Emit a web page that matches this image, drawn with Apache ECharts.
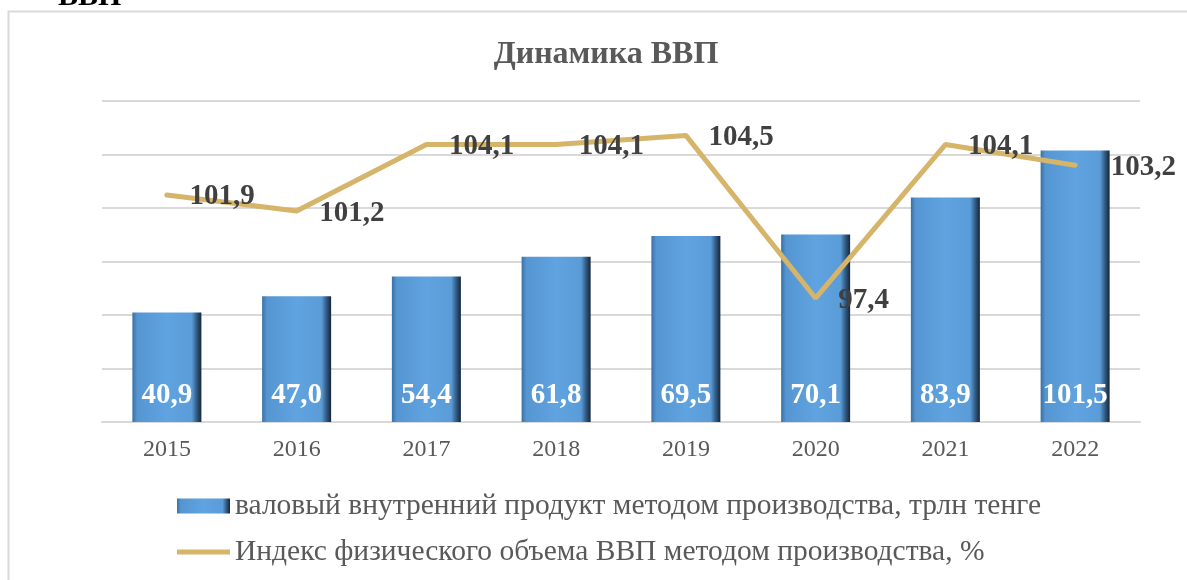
<!DOCTYPE html>
<html>
<head>
<meta charset="utf-8">
<script src="https://cdn.jsdelivr.net/npm/echarts@6/dist/echarts.min.js"></script>
<style>
  html, body { margin: 0; padding: 0; background: #fff; }
  #chart { width: 1187px; height: 580px; }
</style>
</head>
<body>
<div id="chart"></div>
<script>
// data
const years = ['2015', '2016', '2017', '2018', '2019', '2020', '2021', '2022']
const gdpValues = [40.9, 47.0, 54.4, 61.8, 69.5, 70.1, 83.9, 101.5]
const indexValues = [101.9, 101.2, 104.1, 104.1, 104.5, 97.4, 104.1, 103.2]
const barName = 'валовый внутренний продукт методом производства, трлн тенге'
const lineName = 'Индекс физического объема ВВП методом производства, %'

const serif = '"Liberation Serif", "DejaVu Serif", serif'
const lineColor = '#d6b46a'

// comma as decimal separator
function fmt(v) {
    return v.toFixed(1).replace('.', ',')
}

function buildLineData(vals) {
    let out = []
    for (let i = 0; i < vals.length; i++) {
        let item = { value: vals[i] }
        if (i == vals.length - 1) {
            item.label = { distance: 35 }
        }
        out.push(item)
    }
    return out
}

var dom = document.getElementById('chart')
var myChart = echarts.init(dom, null, { renderer: 'canvas' })

var option = {
    animation: false,
    backgroundColor: '#fff',
    title: {
        text: 'Динамика ВВП',
        left: 601,
        textAlign: 'center',
        top: 34,
        textStyle: { fontFamily: serif, fontWeight: 'bold', fontSize: 32, color: '#595959' }
    },
    graphic: [
        {
            type: 'rect',
            shape: { x: 8.5, y: 11.5, width: 1400, height: 800 },
            style: { fill: 'none', stroke: '#d9d9d9', lineWidth: 2 },
            silent: true
        },
        {
            type: 'text',
            left: 58,
            top: -18,
            style: { text: 'ВВП', font: 'bold 30px ' + serif, fill: '#000' }
        }
    ],
    grid: { left: 102, right: 47, top: 101, bottom: 158 },
    legend: {
        orient: 'vertical',
        left: 177,
        top: 491,
        padding: 0,
        itemWidth: 53,
        itemHeight: 15,
        itemGap: 16,
        textStyle: { fontFamily: serif, fontSize: 29.5, color: '#595959' },
        data: [
            { name: barName, icon: 'rect' },
            {
                name: lineName,
                icon: 'path://M0,0 M0,5 L53,5 L53,10 L0,10 Z M53,15',
                itemStyle: { color: lineColor, opacity: 1 }
            }
        ]
    },
    xAxis: {
        type: 'category',
        data: years,
        axisLine: { lineStyle: { color: '#d9d9d9', width: 2 } },
        axisTick: { show: false },
        axisLabel: { fontFamily: serif, fontSize: 24, color: '#595959', margin: 16 }
    },
    yAxis: [
        {
            type: 'value',
            min: 0,
            max: 120,
            interval: 20,
            axisLabel: { show: false },
            axisLine: { show: false },
            axisTick: { show: false },
            splitLine: { lineStyle: { color: '#d9d9d9', width: 2 } }
        },
        {
            type: 'value',
            min: 92,
            max: 106,
            axisLabel: { show: false },
            axisLine: { show: false },
            axisTick: { show: false },
            splitLine: { show: false }
        }
    ],
    series: [
        {
            name: barName,
            type: 'bar',
            data: gdpValues,
            barWidth: 69,
            itemStyle: {
                color: new echarts.graphic.LinearGradient(0, 0, 1, 0, [
                    { offset: 0, color: '#3a70a3' },
                    { offset: 0.07, color: '#5596d2' },
                    { offset: 0.5, color: '#5fa3e0' },
                    { offset: 0.86, color: '#5a9cd8' },
                    { offset: 0.93, color: '#335d87' },
                    { offset: 1, color: '#15253a' }
                ])
            },
            label: {
                show: true,
                position: 'insideBottom',
                distance: 12,
                formatter: p => fmt(p.value),
                fontFamily: serif,
                fontWeight: 'bold',
                fontSize: 29,
                color: '#fff'
            }
        },
        {
            name: lineName,
            type: 'line',
            yAxisIndex: 1,
            data: buildLineData(indexValues),
            symbol: 'circle',
            symbolSize: 1,
            lineStyle: { color: lineColor, width: 5, cap: 'round' },
            itemStyle: { color: 'rgba(0,0,0,0)' },
            z: 5,
            label: {
                show: true,
                position: 'right',
                distance: 22,
                offset: [0, 2],
                formatter: p => fmt(p.value),
                fontFamily: serif,
                fontWeight: 'bold',
                fontSize: 29,
                color: '#404040'
            }
        }
    ]
}

myChart.setOption(option)
</script>
</body>
</html>
